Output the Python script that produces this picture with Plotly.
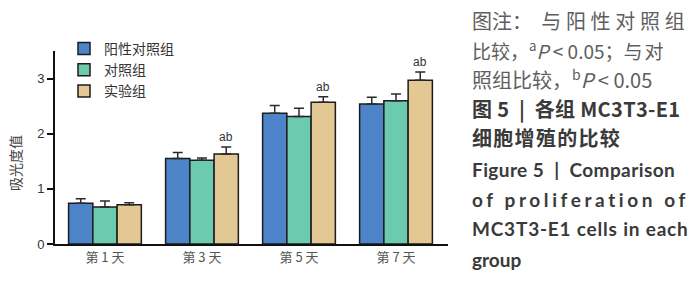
import plotly.graph_objects as go

# ---- data ----
days = ["第 1 天", "第 3 天", "第 5 天", "第 7 天"]
groups = ["阳性对照组", "对照组", "实验组"]
positive_ctrl = [0.74, 1.55, 2.37, 2.54]
positive_err = [0.08, 0.11, 0.14, 0.12]
control = [0.67, 1.52, 2.31, 2.60]
control_err = [0.11, 0.04, 0.15, 0.12]
experiment = [0.71, 1.63, 2.57, 2.97]
experiment_err = [0.04, 0.13, 0.10, 0.15]
sig_labels = ["", "ab", "ab", "ab"]

colors = ["#4d84c9", "#6ccaaf", "#e3c894"]
W, H = 700, 283

fig = go.Figure()
xs = list(range(len(days)))
for name, vals, errs, col in zip(groups, [positive_ctrl, control, experiment],
                                 [positive_err, control_err, experiment_err], colors):
    fig.add_trace(go.Bar(
        x=xs, y=vals, name=name,
        marker=dict(color=col, line=dict(color="#1c1c1c", width=1.5)),
        error_y=dict(type="data", array=errs, arrayminus=[0] * len(errs), symmetric=False,
                     color="#2a2a2a", thickness=1.5, width=5),
    ))

# significance labels above experiment bars
for i, lab in enumerate(sig_labels):
    if lab:
        fig.add_annotation(x=xs[i] + 0.25, y=experiment[i] + experiment_err[i], text=lab,
                           showarrow=False, yanchor="bottom", yshift=1,
                           font=dict(family="Liberation Sans", size=12, color="#333"))

def px(x):
    return x / W

def py(y):
    return 1 - y / H

# y axis title
fig.add_annotation(xref="paper", yref="paper", x=px(15), y=py(163), text="吸光度值",
                   textangle=-90, showarrow=False, xanchor="center", yanchor="middle",
                   font=dict(family="Noto Sans CJK SC", size=14, color="#444"))

# caption on the right
cap_light = "#5e5e5e"
cap_dark = "#3a3a3a"
cjk = "Noto Sans CJK SC"
lat = "Lato"
lines = [
    ('图注：<span style="letter-spacing:4.7px"> 与阳性对照组</span>', 21, cap_light, cjk, 20),
    ('比较，<sup>a</sup><i>P</i> < 0.05；<span style="letter-spacing:2px">与对</span>', 50, cap_light, cjk, 19),
    ('照组比较，<sup>b</sup><i>P</i> < 0.05', 79, cap_light, cjk, 20),
    ('<b><span style="letter-spacing:0.3px">图 5\u00a0 |\u00a0 各组 MC3T3-E1</span></b>', 108, cap_dark, cjk, 20),
    ('<b><span style="letter-spacing:1.3px">细胞增殖的比较</span></b>', 137, cap_dark, cjk, 20),
    ('<b><span style="letter-spacing:0.4px">Figure 5\u00a0 |\u00a0 Comparison</span></b>', 169, cap_dark, lat, 19),
    ('<b><span style="letter-spacing:3.6px">of proliferation of</span></b>', 199, cap_dark, lat, 19),
    ('<b><span style="letter-spacing:0.8px">MC3T3-E1 cells in each</span></b>', 228, cap_dark, lat, 19),
    ('<b>group</b>', 259, cap_dark, lat, 19),
]
for txt, y, col, fam, sz in lines:
    fig.add_annotation(xref="paper", yref="paper", x=px(470), y=py(y), text=txt,
                       xanchor="left", yanchor="middle", showarrow=False,
                       font=dict(family=fam, size=sz, color=col))

fig.update_layout(
    width=W, height=H,
    margin=dict(l=0, r=0, t=0, b=0),
    paper_bgcolor="white", plot_bgcolor="white",
    barmode="group", bargap=0.25, bargroupgap=0,
    showlegend=True,
    legend=dict(x=px(64), y=py(33), xanchor="left", yanchor="top",
                font=dict(family="Noto Sans CJK SC", size=14, color="#333"),
                bgcolor="rgba(0,0,0,0)", tracegroupgap=0, itemwidth=30),
    xaxis=dict(domain=[px(55), px(448)], range=[-0.515, 3.536],
               tickmode="array", tickvals=xs, ticktext=days,
               showline=True, linecolor="#111", linewidth=2, ticks="",
               showgrid=False, zeroline=False,
               tickfont=dict(family="Noto Sans CJK SC", size=13, color="#555"),
               automargin=False),
    yaxis=dict(domain=[py(244), py(51)], range=[0, 3.5],
               tickvals=[0, 1, 2, 3], showline=True, linecolor="#111", linewidth=2,
               ticks="outside", ticklen=6, tickwidth=2, tickcolor="#111",
               showgrid=False, zeroline=False,
               tickfont=dict(family="Liberation Sans", size=13, color="#333"),
               automargin=False),
)

fig.write_html("out.html", config={"displayModeBar": False},
               post_script="document.body.style.margin='0';document.body.style.padding='0';")
